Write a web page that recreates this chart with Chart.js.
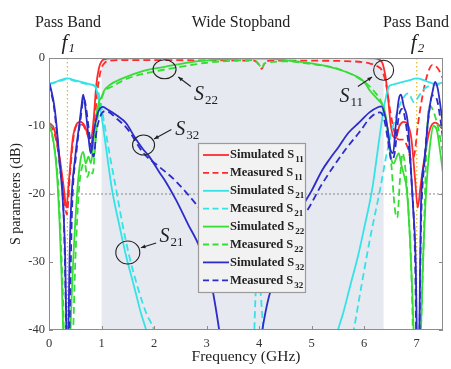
<!DOCTYPE html>
<html><head><meta charset="utf-8">
<script src="https://cdn.jsdelivr.net/npm/chart.js@4.4.1/dist/chart.umd.min.js"></script>
<style>html,body{margin:0;padding:0;background:#fff}#wrap{width:451px;height:369px}</style>
</head><body><div id="wrap"><canvas id="c"></canvas></div>
<script>
// ---- tick labels / ranges ----
const xTicks = [0,1,2,3,4,5,6,7];
const yTicks = [0,-10,-20,-30,-40];
const stopband = [1.0, 6.37];
const passFreqs = [0.35, 7.0];
const topLabels = ['Pass Band','Wide Stopband','Pass Band'];
const legendMain = ['Simulated S','Measured S','Simulated S','Measured S','Simulated S','Measured S','Simulated S','Measured S'];
const legendSub = ['11','11','21','21','22','22','32','32'];

// ---- series (frequency GHz, dB) ----
const fS11Sim = [0,0.1,0.2,0.28,0.33,0.38,0.45,0.52,0.6,0.68,0.75,0.8,0.85,0.9,0.95,1.0,1.05,1.2,2,3,4,5,6.0,6.2,6.3,6.35,6.4,6.45,6.5,6.55,6.6,6.67,6.75,6.83,6.9,6.97,7.02,7.07,7.15,7.25,7.35,7.5];
const dbS11Sim = [-9.5,-10.5,-14.5,-19,-22,-18,-12,-9.8,-9.4,-10,-11.5,-11.8,-9,-4,-1.5,-0.5,-0.2,-0.05,0,0,0,0,-0.02,-0.05,-0.3,-0.8,-2.5,-5.5,-9.5,-11.5,-11.8,-10,-9.4,-9.8,-12,-18,-22,-19,-14.5,-10.5,-9.5,-10.5];

const fS11Meas = [0,0.1,0.2,0.28,0.34,0.4,0.47,0.55,0.63,0.72,0.8,0.86,0.92,0.98,1.05,1.15,1.5,2,3,3.9,4.0,4.05,4.1,4.2,5,5.8,6.1,6.25,6.35,6.42,6.5,6.58,6.66,6.74,6.82,6.9,6.96,7.02,7.1,7.2,7.3,7.4,7.5];
const dbS11Meas = [-9.8,-11,-15,-20,-23,-17,-11.5,-9.8,-9.8,-11,-12.5,-10,-5,-2,-0.8,-0.4,-0.3,-0.3,-0.35,-0.4,-1.0,-1.6,-0.8,-0.4,-0.4,-0.5,-0.8,-1.2,-2,-4,-8,-11,-12,-12,-13,-15,-14,-10,-6,-2.5,-1.0,-1.5,-3];

const fS21Sim = [0,0.1,0.2,0.35,0.5,0.65,0.8,0.88,0.93,1.0,1.1,1.2,1.35,1.47,1.6,1.75,1.85,1.95,5.4,5.5,5.6,5.75,5.88,6.0,6.15,6.25,6.35,6.42,6.47,6.55,6.7,6.85,7.0,7.15,7.25,7.35,7.5];
const dbS21Sim = [-3.8,-3.6,-3.3,-3.0,-3.3,-3.6,-3.9,-4.2,-5.5,-8.5,-14,-19.4,-25,-29.2,-33,-37.5,-40,-43,-43,-40,-37.5,-33,-29.2,-25,-19.4,-14,-8.5,-5.5,-4.2,-3.9,-3.6,-3.3,-3.0,-3.3,-3.6,-3.8,-3.6];

const fS21Meas = [0,0.2,0.35,0.5,0.7,0.9,0.97,1.05,1.15,1.28,1.4,1.53,1.7,1.85,2.0,2.1,3.88,3.94,4.0,4.08,4.14,5.7,5.8,5.9,6.1,6.3,6.43,6.55,6.7,6.84,6.95,7.05,7.15,7.3,7.5];
const dbS21Meas = [-3.9,-3.4,-3.1,-3.4,-3.8,-4.3,-6,-9.5,-14,-19.4,-24.5,-29.2,-34,-37.5,-40,-43,-45,-34,-33,-40,-45,-43,-40,-35.6,-27,-19.4,-14,-10,-6.5,-5.2,-6.5,-5.5,-4.5,-4,-3.9];

const fS22Sim = [0,0.08,0.14,0.17,0.2,0.24,0.27,0.3,0.38,0.41,0.46,0.54,0.6,0.65,0.7,0.75,0.8,0.85,0.9,0.95,1.0,1.05,1.15,1.4,1.8,2.2,2.8,3.3,3.7,4.1,4.5,5.0,5.33,5.7,6.0,6.1,6.27,6.37,6.42,6.46,6.52,6.56,6.62,6.66,6.7,6.75,6.81,6.88,6.94,6.97,7.05,7.08,7.12,7.18,7.25,7.32,7.38,7.45,7.5];
const dbS22Sim = [-9.5,-12,-16,-19.4,-24,-32,-40,-50,-50,-40,-30,-19.4,-15,-13.8,-15.5,-14.5,-15.5,-12,-8.5,-6.5,-5.8,-4.8,-4,-3,-1.9,-1.3,-0.5,-0.2,-0.1,-0.1,-0.3,-0.8,-1.3,-2.2,-3.5,-4.7,-6.2,-7.2,-9,-12,-15,-15.5,-14.5,-14,-15.5,-17,-19.4,-28,-40,-50,-50,-40,-30,-19.4,-13,-10,-10.5,-14,-17];

const fS22Meas = [0,0.1,0.17,0.22,0.27,0.3,0.42,0.46,0.5,0.57,0.63,0.68,0.73,0.78,0.83,0.88,0.93,0.98,1.05,1.2,1.5,2.0,2.5,3.0,3.5,3.9,4.0,4.05,4.1,4.5,5.0,5.5,5.9,6.2,6.35,6.45,6.52,6.58,6.63,6.68,6.73,6.78,6.84,6.9,6.95,7.05,7.1,7.15,7.2,7.25,7.3,7.4,7.5];
const dbS22Meas = [-9.8,-13,-18,-26,-36,-45,-45,-40,-30,-19.4,-16,-15.5,-17.5,-16.5,-17,-13,-8.5,-6.5,-5,-4.2,-3,-2,-1.3,-0.7,-0.4,-0.3,-1.0,-1.6,-0.8,-0.5,-0.9,-1.6,-3,-5,-7,-11,-16,-22,-23.5,-18,-14,-16,-22,-32,-45,-45,-35,-22,-10,-7,-7.5,-10,-14];

const fS32Sim = [0,0.05,0.1,0.14,0.2,0.27,0.31,0.33,0.35,0.37,0.39,0.42,0.5,0.58,0.62,0.65,0.68,0.73,0.78,0.8,0.85,0.93,1.02,1.1,1.3,1.47,1.62,1.78,1.91,2.1,2.23,2.42,2.65,2.86,3.0,3.11,3.24,3.35,3.95,4.06,4.19,4.4,4.6,4.82,5.0,5.2,5.33,5.52,5.7,5.9,6.1,6.27,6.33,6.38,6.45,6.5,6.55,6.6,6.66,6.7,6.75,6.83,6.93,6.98,7.0,7.02,7.05,7.08,7.15,7.21,7.25,7.3,7.35,7.4,7.45,7.5];
const dbS32Sim = [-3.5,-5,-7,-9.6,-15,-21.9,-30,-40,-50,-40,-30,-21.9,-14.5,-9.6,-7,-5.4,-6.5,-10,-13.5,-14,-11,-8.1,-7.2,-7.5,-8.5,-9.6,-11.5,-13.3,-14.5,-16.8,-18.3,-20.9,-24.5,-27.7,-31,-34,-40,-46,-46,-40,-35,-30.5,-26,-21.9,-19.5,-16.5,-15,-13,-11,-9.5,-8,-7.2,-7.1,-8,-10.5,-13.5,-14,-10,-6,-5.4,-7,-9.6,-21.9,-30,-40,-50,-40,-21.9,-15,-9.6,-7,-5,-3.5,-4.5,-7,-10];

const fS32Meas = [0,0.1,0.2,0.28,0.33,0.36,0.39,0.44,0.52,0.6,0.66,0.7,0.75,0.8,0.85,0.9,0.98,1.08,1.3,1.5,1.8,2.1,2.4,2.8,3.0,3.5,4.0,4.5,4.88,5.2,5.64,5.9,6.14,6.3,6.38,6.45,6.52,6.58,6.65,6.72,6.8,6.9,6.97,7.0,7.04,7.08,7.15,7.22,7.3,7.38,7.45,7.5];
const dbS32Meas = [-3.8,-7.5,-15.5,-23,-40,-50,-40,-22,-14,-9,-6,-7,-10,-13,-14.5,-11,-8.5,-7.8,-9,-10.5,-14,-16,-18,-21.5,-23.5,-26,-27,-25.5,-22.8,-18.5,-13.5,-11,-8.6,-8,-9,-12,-15,-14,-9,-7.5,-10,-18,-30,-45,-45,-25,-15,-9,-5.5,-6,-9,-12];

// ---- styles ----
const RED='#ff2b2b', CYAN='#35e2e6', GREEN='#35dd35', BLUE='#2c2cc8';
const DASH=[7,4];
const zip=(f,d)=>f.map((v,i)=>({x:v,y:d[i]}));
const series = [
  [fS11Sim,dbS11Sim,RED,false],[fS11Meas,dbS11Meas,RED,true],
  [fS21Sim,dbS21Sim,CYAN,false],[fS21Meas,dbS21Meas,CYAN,true],
  [fS22Sim,dbS22Sim,GREEN,false],[fS22Meas,dbS22Meas,GREEN,true],
  [fS32Sim,dbS32Sim,BLUE,false],[fS32Meas,dbS32Meas,BLUE,true]
];
const datasets = series.map((s,i)=>({
  label: legendMain[i]+legendSub[i],
  data: zip(s[0],s[1]),
  borderColor: s[2], backgroundColor: s[2],
  borderWidth: 1.8, borderDash: s[3]?DASH:[],
  pointRadius: 0, cubicInterpolationMode:'monotone', fill:false,
  order: 8-i
}));

// annotations in data units
const annos = [
  {cx:2.2, cy:-1.66, rx:11.5, ry:9.5, lx:2.99, ly:-5.2, sub:'22', ax1:2.70, ay1:-4.2, ax2:2.46, ay2:-2.8},
  {cx:1.8, cy:-12.8, rx:11, ry:10, lx:2.63, ly:-10.3, sub:'32', ax1:2.33, ay1:-10.5, ax2:2.0, ay2:-11.9},
  {cx:1.5, cy:-28.6, rx:12, ry:11.5, lx:2.33, ly:-26.0, sub:'21', ax1:2.04, ay1:-27.2, ax2:1.75, ay2:-27.9},
  {cx:6.37, cy:-1.8, rx:10, ry:10, lx:5.76, ly:-5.4, sub:'11', ax1:5.88, ay1:-4.2, ax2:6.15, ay2:-2.8}
];
const SERIF='"Liberation Serif","Times New Roman",serif';

function arrow(ctx,x1,y1,x2,y2){
  ctx.beginPath();ctx.moveTo(x1,y1);ctx.lineTo(x2,y2);ctx.stroke();
  const a=Math.atan2(y2-y1,x2-x1), L=5;
  ctx.beginPath();ctx.moveTo(x2,y2);
  ctx.lineTo(x2-L*Math.cos(a-0.4),y2-L*Math.sin(a-0.4));
  ctx.lineTo(x2-L*Math.cos(a+0.4),y2-L*Math.sin(a+0.4));
  ctx.closePath();ctx.fill();
}

const deco = {
  id:'deco',
  beforeDatasetsDraw(chart){
    const {ctx, chartArea:a, scales:{x,y}} = chart;
    ctx.save();
    ctx.fillStyle='#e6e9f0';
    const x1=x.getPixelForValue(stopband[0]), x2=x.getPixelForValue(stopband[1]);
    ctx.fillRect(x1,a.top,x2-x1,a.bottom-a.top);
    ctx.lineWidth=1.2; ctx.strokeStyle='#d8b830'; ctx.setLineDash([1.5,2.5]);
    passFreqs.forEach(f=>{const px=x.getPixelForValue(f);ctx.beginPath();ctx.moveTo(px,a.top);ctx.lineTo(px,a.bottom);ctx.stroke();});
    ctx.strokeStyle='#8a8a8a'; ctx.lineWidth=1; ctx.setLineDash([2,2]);
    const py=y.getPixelForValue(-20);
    ctx.beginPath();ctx.moveTo(a.left,py);ctx.lineTo(a.right,py);ctx.stroke();
    ctx.restore();
  },
  afterDatasetsDraw(chart){
    const {ctx, chartArea:a, scales:{x,y}} = chart;
    ctx.save();
    // frame
    ctx.strokeStyle='#8c8c8c'; ctx.lineWidth=1;
    ctx.strokeRect(a.left+0.5,a.top+0.5,a.right-a.left-1,a.bottom-a.top-1);
    // inner tick marks
    ctx.beginPath();
    xTicks.forEach(v=>{const px=Math.round(x.getPixelForValue(v))+0.5;ctx.moveTo(px,a.bottom);ctx.lineTo(px,a.bottom-4);});
    yTicks.forEach(v=>{const py=Math.round(y.getPixelForValue(v))+0.5;ctx.moveTo(a.left,py);ctx.lineTo(a.left+4,py);ctx.moveTo(a.right,py);ctx.lineTo(a.right-4,py);});
    ctx.stroke();
    // annotations
    ctx.strokeStyle='#222'; ctx.fillStyle='#222'; ctx.lineWidth=1.1;
    annos.forEach(n=>{
      const cx=x.getPixelForValue(n.cx), cy=y.getPixelForValue(n.cy);
      ctx.beginPath();ctx.ellipse(cx,cy,n.rx,n.ry,0,0,Math.PI*2);ctx.stroke();
      arrow(ctx,x.getPixelForValue(n.ax1),y.getPixelForValue(n.ay1),x.getPixelForValue(n.ax2),y.getPixelForValue(n.ay2));
      const lx=x.getPixelForValue(n.lx), ly=y.getPixelForValue(n.ly);
      ctx.font='italic 20px '+SERIF; ctx.textAlign='left'; ctx.textBaseline='alphabetic';
      const w=ctx.measureText('S').width;
      ctx.fillText('S',lx-12,ly+7);
      ctx.font='13px '+SERIF;
      ctx.fillText(n.sub,lx-12+w+1,ly+11);
    });
    // legend
    const L=a.left+149, T=a.top+85, W=107, H=149;
    ctx.fillStyle='#f2f2f2'; ctx.fillRect(L,T,W,H);
    ctx.strokeStyle='#9a9a9a'; ctx.lineWidth=1.2; ctx.strokeRect(L+0.5,T+0.5,W,H);
    series.forEach((s,i)=>{
      const yy=T+12+i*17.9;
      ctx.strokeStyle=s[2]; ctx.lineWidth=1.8; ctx.setLineDash(s[3]?[6,3.5]:[]);
      ctx.beginPath();ctx.moveTo(L+5,yy);ctx.lineTo(L+31,yy);ctx.stroke();
      ctx.setLineDash([]);
      ctx.fillStyle='#222'; ctx.font='bold 12.5px '+SERIF; ctx.textBaseline='middle'; ctx.textAlign='left';
      ctx.fillText(legendMain[i],L+32,yy);
      const w=ctx.measureText(legendMain[i]).width;
      ctx.font='bold 9px '+SERIF;
      ctx.fillText(legendSub[i],L+33+w,yy+5);
    });
    ctx.restore();
  },
  afterDraw(chart){
    const {ctx, chartArea:a, scales:{x}} = chart;
    ctx.save();
    ctx.fillStyle='#222'; ctx.textAlign='center'; ctx.textBaseline='middle';
    ctx.font='16px '+SERIF;
    ctx.fillText(topLabels[0],68,23);
    ctx.fillText(topLabels[1],241,23);
    ctx.fillText(topLabels[2],416,23);
    passFreqs.forEach((f,i)=>{
      const px=x.getPixelForValue(f);
      ctx.font='italic 21px '+SERIF; ctx.textAlign='left'; ctx.textBaseline='alphabetic';
      ctx.fillText('f',px-6,49);
      ctx.font='italic 13px '+SERIF;
      ctx.fillText(String(i+1),px+1,52);
    });
    ctx.restore();
  }
};

new Chart(document.getElementById('c'),{
  type:'line',
  data:{datasets},
  options:{
    responsive:true, maintainAspectRatio:false, animation:false,
    layout:{padding:{top:58,right:8,left:0,bottom:0}},
    plugins:{legend:{display:false},tooltip:{enabled:false}},
    scales:{
      x:{type:'linear',min:0,max:7.5,
        afterBuildTicks:s=>{s.ticks=xTicks.map(v=>({value:v}));},
        afterFit:s=>{s.height=39;},
        grid:{display:false,drawTicks:false},border:{display:false},
        ticks:{padding:6,color:'#333',font:{family:SERIF,size:12.5}},
        title:{display:true,text:'Frequency (GHz)',color:'#222',font:{family:SERIF,size:15.5},padding:{top:2,bottom:3}}},
      y:{type:'linear',min:-40,max:0,
        afterBuildTicks:s=>{s.ticks=yTicks.map(v=>({value:v}));},
        afterFit:s=>{s.width=49;},
        grid:{display:false,drawTicks:false},border:{display:false},
        ticks:{padding:4,color:'#333',font:{family:SERIF,size:12.5}},
        title:{display:true,text:'S parameters (dB)',color:'#222',font:{family:SERIF,size:14},padding:{top:8,bottom:2}}}
    }
  },
  plugins:[deco]
});
</script>
</body></html>
